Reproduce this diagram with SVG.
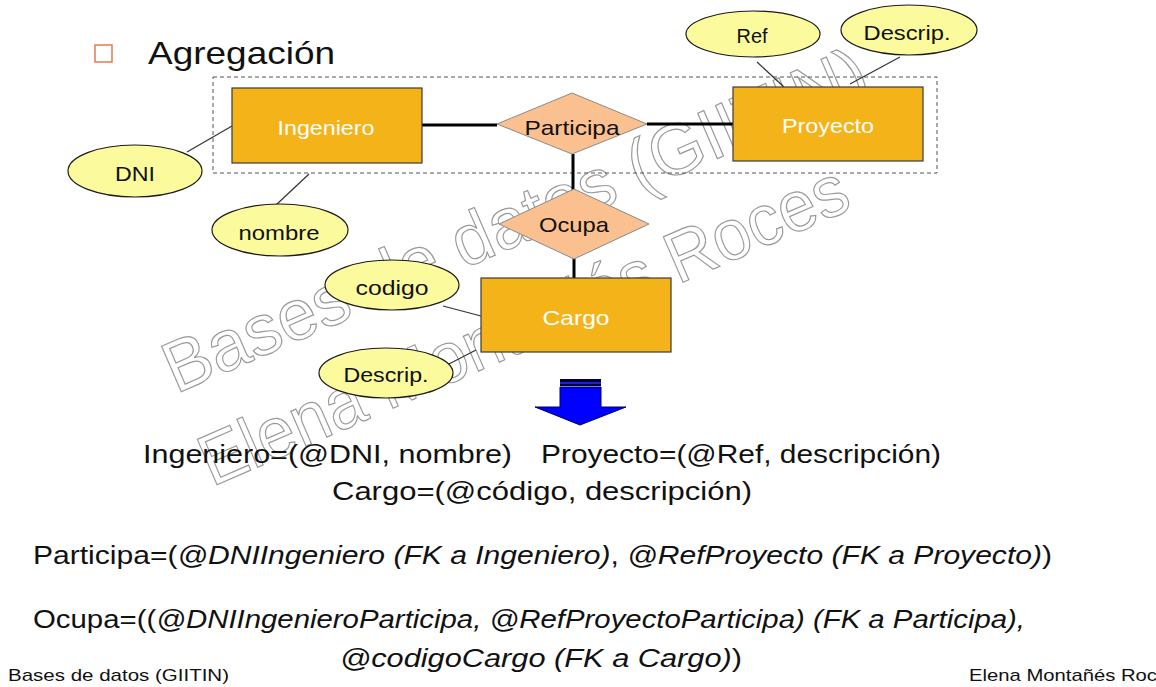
<svg xmlns="http://www.w3.org/2000/svg" width="1156" height="687" viewBox="0 0 1156 687">
<style>
.ent{fill:#F5B31A;stroke:#3a3a3a;stroke-width:1.2}
.rel{fill:#FBC08F;stroke:#8a8a8a;stroke-width:1}
.att{fill:#FBFB9E;stroke:#1a1a1a;stroke-width:1.2}
.wt{font-family:"Liberation Sans",Arial,sans-serif;font-size:21px;fill:#ffffff;text-anchor:middle}
.bt{font-family:"Liberation Sans",Arial,sans-serif;font-size:21px;fill:#111;text-anchor:middle}
.main{font-family:"Liberation Sans",Arial,sans-serif;font-size:26px;fill:#111}
.it{font-style:italic}
.foot{font-family:"Liberation Sans",Arial,sans-serif;font-size:17px;fill:#111}
.wm{font-family:"Liberation Sans",Arial,sans-serif;font-size:72px;fill:none;stroke:#9a9a9a;stroke-width:1.2}
.thick{stroke:#000;stroke-width:3;fill:none}
.thin{stroke:#333;stroke-width:1.2;fill:none}
</style>
<rect width="1156" height="687" fill="#ffffff"/>
<g id="watermark">
<text class="wm" transform="translate(176,394) rotate(-23.5)" x="0" y="0" textLength="760" lengthAdjust="spacingAndGlyphs">Bases de datos (GIITIN)</text>
<text class="wm" transform="translate(212,487) rotate(-23.5)" x="0" y="0" textLength="700" lengthAdjust="spacingAndGlyphs">Elena Montañés Roces</text>
</g>
<g id="title">
<rect x="95" y="45" width="17" height="17" fill="none" stroke="#E07B4F" stroke-width="1.5"/>
<text x="148" y="64" font-family="'Liberation Sans',Arial,sans-serif" font-size="32" fill="#111" textLength="187" lengthAdjust="spacingAndGlyphs">Agregación</text>
</g>
<g id="aggregation-box">
<rect x="213" y="77" width="724" height="96" fill="none" stroke="#555" stroke-width="1" stroke-dasharray="4,3"/>
</g>
<g id="connectors">
<line class="thick" x1="422" y1="125" x2="497" y2="125"/>
<line class="thick" x1="647" y1="124" x2="733" y2="124"/>
<line class="thick" x1="573" y1="154" x2="573" y2="190"/>
<line class="thick" x1="574" y1="258" x2="574" y2="278"/>
<line class="thin" x1="187" y1="152" x2="232" y2="126"/>
<line class="thin" x1="309" y1="174" x2="276" y2="205"/>
<line class="thin" x1="757" y1="62" x2="784" y2="87"/>
<line class="thin" x1="900" y1="57" x2="850" y2="84"/>
<line class="thin" x1="443" y1="306" x2="481" y2="316"/>
<line class="thin" x1="447" y1="365" x2="476" y2="350"/>
</g>
<g id="Ingeniero">
<rect class="ent" x="232" y="88" width="190" height="75"/>
<text class="wt" x="326" y="135" textLength="97" lengthAdjust="spacingAndGlyphs">Ingeniero</text>
</g>
<g id="Proyecto">
<rect class="ent" x="733" y="87" width="190" height="74"/>
<text class="wt" x="828" y="133" textLength="92" lengthAdjust="spacingAndGlyphs">Proyecto</text>
</g>
<g id="Participa">
<polygon class="rel" points="497,124 572,93 647,124 572,154"/>
<text class="bt" x="572" y="135" textLength="95" lengthAdjust="spacingAndGlyphs">Participa</text>
</g>
<g id="Ocupa">
<polygon class="rel" points="499,224 574,189 649,224 574,259"/>
<text class="bt" x="574" y="232" textLength="70" lengthAdjust="spacingAndGlyphs">Ocupa</text>
</g>
<g id="Cargo">
<rect class="ent" x="481" y="278" width="190" height="74"/>
<text class="wt" x="576" y="325" textLength="67" lengthAdjust="spacingAndGlyphs">Cargo</text>
</g>
<g id="attr-Ref">
<ellipse class="att" cx="753" cy="34" rx="67" ry="23"/>
<text class="bt" x="752" y="43" textLength="31" lengthAdjust="spacingAndGlyphs">Ref</text>
</g>
<g id="attr-DescripProyecto">
<ellipse class="att" cx="909" cy="30" rx="68" ry="25"/>
<text class="bt" x="907" y="40" textLength="87" lengthAdjust="spacingAndGlyphs">Descrip.</text>
</g>
<g id="attr-DNI">
<ellipse class="att" cx="135" cy="171" rx="67" ry="26"/>
<text class="bt" x="135" y="181" textLength="40" lengthAdjust="spacingAndGlyphs">DNI</text>
</g>
<g id="attr-nombre">
<ellipse class="att" cx="280" cy="230" rx="68" ry="26"/>
<text class="bt" x="279" y="240" textLength="81" lengthAdjust="spacingAndGlyphs">nombre</text>
</g>
<g id="attr-codigo">
<ellipse class="att" cx="392" cy="285" rx="67" ry="25"/>
<text class="bt" x="392" y="295" textLength="73" lengthAdjust="spacingAndGlyphs">codigo</text>
</g>
<g id="attr-DescripCargo">
<ellipse class="att" cx="386" cy="373" rx="67" ry="25"/>
<text class="bt" x="386" y="382" textLength="85" lengthAdjust="spacingAndGlyphs">Descrip.</text>
</g>
<g id="arrow">
<polygon points="560,387 601,387 601,407 626,407 580,425 535,407 560,407" fill="#0000FF" stroke="#00005a" stroke-width="1"/>
<rect x="560" y="379" width="41" height="3" fill="#00003a"/>
<rect x="560" y="382" width="41" height="2" fill="#2020d0"/>
<rect x="560" y="384" width="41" height="2" fill="#00003a"/>
</g>
<g id="relations">
<text class="main" x="143" y="463" textLength="369" lengthAdjust="spacingAndGlyphs">Ingeniero=(@DNI, nombre)</text>
<text class="main" x="541" y="463" textLength="400" lengthAdjust="spacingAndGlyphs">Proyecto=(@Ref, descripción)</text>
<text class="main" x="332" y="500" textLength="420" lengthAdjust="spacingAndGlyphs">Cargo=(@código, descripción)</text>
<text class="main" x="33" y="564" textLength="1019" lengthAdjust="spacingAndGlyphs">Participa=(<tspan class="it">@DNIIngeniero (FK a Ingeniero)</tspan>, <tspan class="it">@RefProyecto (FK a Proyecto)</tspan>)</text>
<text class="main" x="33" y="628" textLength="992" lengthAdjust="spacingAndGlyphs">Ocupa=((<tspan class="it">@DNIIngenieroParticipa, @RefProyectoParticipa) (FK a Participa),</tspan></text>
<text class="main" x="340" y="667" textLength="402" lengthAdjust="spacingAndGlyphs"><tspan class="it">@codigoCargo (FK a Cargo)</tspan>)</text>
</g>
<g id="footer">
<text class="foot" x="8" y="681" textLength="221" lengthAdjust="spacingAndGlyphs">Bases de datos (GIITIN)</text>
<text class="foot" x="969" y="681" textLength="188" lengthAdjust="spacingAndGlyphs">Elena Montañés Roc</text>
</g>
</svg>
